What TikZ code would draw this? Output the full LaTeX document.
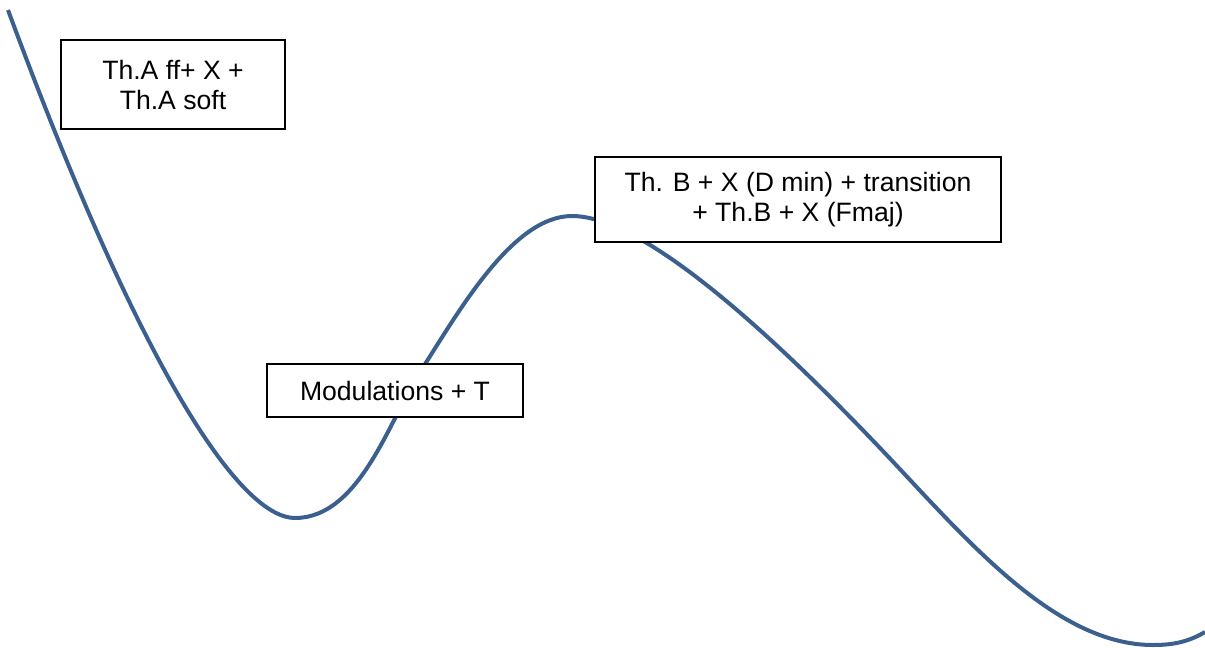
\documentclass[tikz,border=0pt]{standalone}
\usepackage{fontspec}
\setmainfont{Liberation Sans}
\definecolor{curveblue}{HTML}{3B5F8E}
\begin{document}
\begin{tikzpicture}[x=1pt,y=-1pt,
  labelbox/.style={draw=black,line width=1.5pt,fill=white,inner sep=0pt,align=center,
    font=\fontsize{26.6}{30}\selectfont},
  wave/.style={draw=curveblue,line width=4pt}]
\useasboundingbox (0,0) rectangle (1205,648);
\draw[wave] (8,10)
  .. controls (146.8,385.2) and (243,518) .. (295,518)
  .. controls (360,518) and (390.2,418.2) .. (420,372)
  .. controls (457.9,313.2) and (512,216) .. (572,216)
  .. controls (622,216) and (714.4,274.2) .. (880,448)
  .. controls (962.8,534.9) and (1053,645) .. (1153,645)
  .. controls (1173,645) and (1188,642) .. (1205,632);
\node[labelbox,minimum width=224pt,minimum height=89pt] (thA) at (173,84.5)
  {Th.A ff+ X +\\Th.A soft};
\node[labelbox,minimum width=406pt,minimum height=85pt] (thB) at (798,199.5)
  {Th. B + X (D min) + transition\\+ Th.B + X (Fmaj)};
\node[labelbox,minimum width=256pt,minimum height=53pt] (mod) at (395,390.5)
  {Modulations + T};
\end{tikzpicture}
\end{document}
